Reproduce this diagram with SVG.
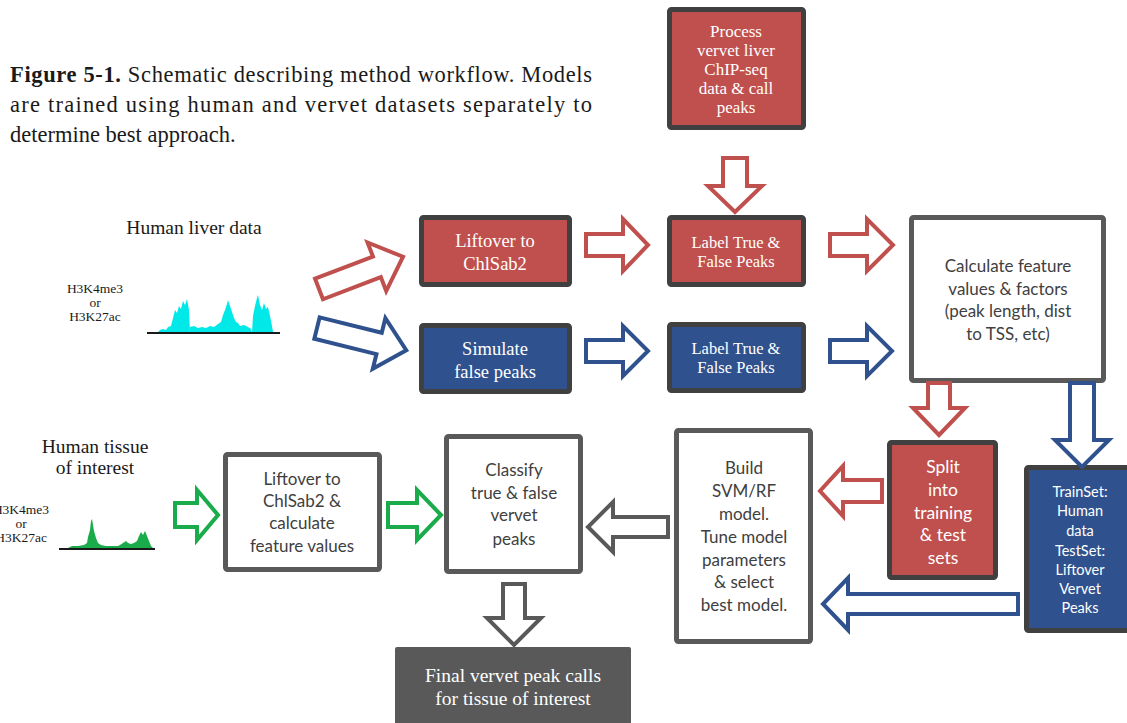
<svg xmlns="http://www.w3.org/2000/svg" width="1127" height="723" viewBox="0 0 1127 723">
<style>
.cap{font-family:"Liberation Serif",serif;font-size:22.5px;fill:#1a1a1a}
.lbl{font-family:"Liberation Serif",serif;fill:#1a1a1a;text-anchor:middle}
.ser{font-family:"Liberation Serif",serif;fill:#ffffff;text-anchor:middle}
.san{font-family:Lato,"Liberation Sans",sans-serif;fill:#404040;text-anchor:middle;font-size:17px}
.sanw{font-family:Lato,"Liberation Sans",sans-serif;fill:#ffffff;text-anchor:middle}
.red{fill:#C0504D;stroke:#404040;stroke-width:5}
.blue{fill:#2F528F;stroke:#404040;stroke-width:5}
.wht{fill:#ffffff;stroke:#595959;stroke-width:5}
.ar{fill:#ffffff;stroke-width:4;stroke-linejoin:miter}
.ar-r{stroke:#C0504D}
.ar-b{stroke:#2F528F}
.ar-g{stroke:#1AAB4B}
.ar-k{stroke:#595959}
</style>

<g id="caption">
<text class="cap" x="10" y="82" textLength="582" lengthAdjust="spacing"><tspan font-weight="bold">Figure 5-1.</tspan> Schematic describing method workflow. Models</text>
<text class="cap" x="10" y="112" textLength="582" lengthAdjust="spacing">are trained using human and vervet datasets separately to</text>
<text class="cap" x="10" y="142">determine best approach.</text>
</g>

<g id="human-liver-data">
<text class="lbl" x="194" y="234" font-size="19.5">Human liver data</text>
<text class="lbl" x="95" y="293" font-size="13.5">H3K4me3</text>
<text class="lbl" x="95" y="307" font-size="13.5">or</text>
<text class="lbl" x="95" y="321" font-size="13.5">H3K27ac</text>
<polygon fill="#00E8E8" points="158,332 160,330 163,329 166,330 168,327 171,326 173,318 175,310 177,313 179,306 181,309 183,301 185,305 187,299 189,310 190,332 190,327 194,326 198,328 202,327 206,328 210,326 214,327 218,324 221,322 223,315 225,310 227,304 228,300 230,306 232,312 234,318 236,322 238,323 240,326 244,325 248,327 251,329 252,332 253,316 255,306 257,298 258,295 260,305 262,310 264,303 266,309 268,307 270,316 272,326 273,332"/>
<line x1="147" y1="333" x2="280" y2="333" stroke="#1a1a1a" stroke-width="2"/>
</g>

<g id="human-tissue">
<text class="lbl" x="95" y="453" font-size="19.5">Human tissue</text>
<text class="lbl" x="95" y="474" font-size="19.5">of interest</text>
<text class="lbl" x="21" y="514" font-size="13.5">H3K4me3</text>
<text class="lbl" x="21" y="528" font-size="13.5">or</text>
<text class="lbl" x="21" y="542" font-size="13.5">H3K27ac</text>
<polygon fill="#1AAB4B" points="68,548 72,546 78,546 84,545 87,543 88,537 90,530 91,521 92,519 93,525 94,531 96,538 98,543 101,545 106,546 112,546 118,546 120,545 123,543 126,541 128,543 131,544 134,543 137,541 139,536 141,532 143,535 145,531 147,536 149,541 151,546 153,548"/>
<line x1="59" y1="549" x2="155" y2="549" stroke="#1a1a1a" stroke-width="2"/>
</g>

<g id="process-vervet">
<rect class="red" x="669.5" y="9.5" width="134" height="118" rx="2"/>
<text class="ser" font-size="17"><tspan x="736" y="37">Process</tspan><tspan x="736" y="56">vervet liver</tspan><tspan x="736" y="75">ChIP-seq</tspan><tspan x="736" y="94">data &amp; call</tspan><tspan x="736" y="113">peaks</tspan></text>
</g>

<g id="liftover-red">
<rect class="red" x="421.5" y="217.5" width="148" height="67" rx="2"/>
<text class="ser" font-size="18.5"><tspan x="495" y="247">Liftover to</tspan><tspan x="495" y="270">ChlSab2</tspan></text>
</g>

<g id="simulate-blue">
<rect class="blue" x="421.5" y="325.5" width="148" height="66" rx="2"/>
<text class="ser" font-size="18.5"><tspan x="495" y="355">Simulate</tspan><tspan x="495" y="378">false peaks</tspan></text>
</g>

<g id="label-red">
<rect class="red" x="669.5" y="217.5" width="134" height="67" rx="2"/>
<text class="ser" font-size="16.5"><tspan x="736" y="248">Label True &amp;</tspan><tspan x="736" y="267">False Peaks</tspan></text>
</g>

<g id="label-blue">
<rect class="blue" x="669.5" y="324.5" width="134" height="66" rx="2"/>
<text class="ser" font-size="16.5"><tspan x="736" y="354">Label True &amp;</tspan><tspan x="736" y="373">False Peaks</tspan></text>
</g>

<g id="calculate">
<rect class="wht" x="911.5" y="217.5" width="192" height="163" rx="2"/>
<text class="san"><tspan x="1008" y="272">Calculate feature</tspan><tspan x="1008" y="295">values &amp; factors</tspan><tspan x="1008" y="317">(peak length, dist</tspan><tspan x="1008" y="340">to TSS, etc)</tspan></text>
</g>

<g id="split">
<rect class="red" x="889.5" y="442.5" width="106" height="135" rx="2"/>
<text class="sanw" font-size="17.5"><tspan x="943" y="473">Split</tspan><tspan x="943" y="496">into</tspan><tspan x="943" y="519">training</tspan><tspan x="943" y="541">&amp; test</tspan><tspan x="943" y="564">sets</tspan></text>
</g>

<g id="trainset">
<rect class="blue" x="1026.5" y="467.5" width="110" height="163" rx="2"/>
<text class="sanw" font-size="14.5"><tspan x="1080" y="497">TrainSet:</tspan><tspan x="1080" y="516">Human</tspan><tspan x="1080" y="536">data</tspan><tspan x="1080" y="556">TestSet:</tspan><tspan x="1080" y="575">Liftover</tspan><tspan x="1080" y="594">Vervet</tspan><tspan x="1080" y="613">Peaks</tspan></text>
</g>

<g id="build-model">
<rect class="wht" x="676.5" y="430.5" width="134" height="211" rx="2"/>
<text class="san"><tspan x="744" y="474">Build</tspan><tspan x="744" y="497">SVM/RF</tspan><tspan x="744" y="520">model.</tspan><tspan x="744" y="543">Tune model</tspan><tspan x="744" y="566">parameters</tspan><tspan x="744" y="588">&amp; select</tspan><tspan x="744" y="611">best model.</tspan></text>
</g>

<g id="classify">
<rect class="wht" x="446.5" y="436.5" width="134" height="135" rx="2"/>
<text class="san"><tspan x="514" y="476">Classify</tspan><tspan x="514" y="499">true &amp; false</tspan><tspan x="514" y="521">vervet</tspan><tspan x="514" y="545">peaks</tspan></text>
</g>

<g id="liftover-calc">
<rect class="wht" x="225.5" y="454.5" width="154" height="115" rx="2"/>
<text class="san"><tspan x="302" y="485">Liftover to</tspan><tspan x="302" y="507">ChlSab2 &amp;</tspan><tspan x="302" y="529">calculate</tspan><tspan x="302" y="552">feature values</tspan></text>
</g>

<g id="final-calls">
<rect x="395" y="647" width="236" height="80" rx="2" fill="#595959"/>
<text class="ser" font-size="19.5" fill="#eeeeee"><tspan x="513" y="682">Final vervet peak calls</tspan><tspan x="513" y="705">for tissue of interest</tspan></text>
</g>

<g id="connectors">
<path class="ar ar-r" transform="translate(319,289) rotate(-21)" d="M0,-11 L62,-11 L62,-26 L90,0 L62,26 L62,11 L0,11 Z"/>
<path class="ar ar-b" transform="translate(317,328) rotate(14)" d="M0,-11 L64,-11 L64,-26 L92,0 L64,26 L64,11 L0,11 Z"/>
<path class="ar ar-r" d="M586,234 L623,234 L623,219 L648,245 L623,271 L623,256 L586,256 Z"/>
<path class="ar ar-b" d="M586,340 L623,340 L623,326 L648,351 L623,376 L623,362 L586,362 Z"/>
<path class="ar ar-r" d="M830,234 L867,234 L867,219 L893,245 L867,271 L867,256 L830,256 Z"/>
<path class="ar ar-b" d="M830,340 L867,340 L867,326 L892,351 L867,376 L867,362 L830,362 Z"/>
<path class="ar ar-r" d="M723,158 L747,158 L747,186 L762,186 L735,212 L708,186 L723,186 Z"/>
<path class="ar ar-r" d="M928,383 L950,383 L950,408 L965,408 L939,435 L913,408 L928,408 Z"/>
<path class="ar ar-b" d="M1070,383 L1094,383 L1094,440 L1109,440 L1082,467 L1055,440 L1070,440 Z"/>
<path class="ar ar-r" d="M882,480 L843,480 L843,466 L820,491 L843,516 L843,502 L882,502 Z"/>
<path class="ar ar-b" d="M1018,594 L848,594 L848,578 L823,604 L848,630 L848,614 L1018,614 Z"/>
<path class="ar ar-k" d="M668,517 L613,517 L613,502 L588,527 L613,552 L613,537 L668,537 Z"/>
<path class="ar ar-k" d="M503,584 L525,584 L525,618 L541,618 L514,645 L487,618 L503,618 Z"/>
<path class="ar ar-g" d="M175,503 L197,503 L197,490 L218,515 L197,540 L197,527 L175,527 Z"/>
<path class="ar ar-g" d="M388,503 L417,503 L417,490 L441,515 L417,540 L417,527 L388,527 Z"/>
</g>
</svg>
